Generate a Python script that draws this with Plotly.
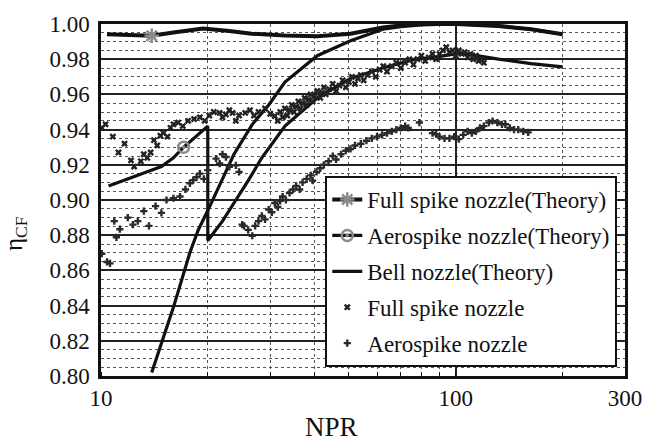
import plotly.graph_objects as go

# ---------------- data ----------------
fs_theory_x = [10.4, 11.5, 13.9, 16.0, 19.4, 23.0, 26.6, 33.0, 40.7, 50.5, 62.3, 70.0, 80.0, 100.0, 132.0, 163.0, 200.0]
fs_theory_y = [0.9942, 0.9938, 0.9933, 0.9952, 0.9975, 0.9960, 0.9945, 0.9935, 0.9930, 0.9945, 0.9980, 0.9992, 1.0, 1.0, 0.9989, 0.9970, 0.9942]
fs_theory_mark_x = [13.9]
fs_theory_mark_y = [0.9933]

aero_theory_x = [10.5, 12.0, 13.5, 14.8, 16.0, 17.1, 18.5, 20.0, 20.0, 22.0, 24.0, 26.0, 28.4, 33.0, 40.7, 50.5, 62.3, 77.0, 86.6, 100.0, 106.8, 132.0, 163.0, 200.0]
aero_theory_y = [0.908, 0.912, 0.916, 0.919, 0.924, 0.930, 0.936, 0.942, 0.877, 0.888, 0.900, 0.911, 0.924, 0.942, 0.958, 0.969, 0.975, 0.980, 0.981, 0.983, 0.983, 0.980, 0.9775, 0.9756]
aero_theory_mark_x = [17.1]
aero_theory_mark_y = [0.930]

bell_x = [13.9, 16.0, 17.8, 18.8, 20.0, 22.5, 23.7, 26.7, 29.7, 33.0, 40.7, 50.5, 62.3, 70.0, 80.0, 100.0, 132.0, 163.0, 200.0]
bell_y = [0.802, 0.839, 0.870, 0.883, 0.894, 0.916, 0.926, 0.943, 0.954, 0.967, 0.982, 0.9905, 0.997, 0.9985, 0.9995, 1.0, 0.9989, 0.997, 0.9942]

fs_exp_x = [10.05, 10.3, 10.8, 11.2, 11.65, 12.15, 12.4, 12.95, 13.2, 13.5, 13.8, 14.1, 14.4, 14.7, 15.0, 15.4,
            15.7, 16.0, 16.5, 17.0, 17.6, 18.3, 19.0, 19.6, 20.2, 20.8, 21.6, 22.0, 22.5, 23.0, 23.5, 24.0,
            24.5, 25.5, 26.3, 27.0, 27.8, 29.0, 30.0, 30.9,
            31.5, 32.0, 32.5, 33.0, 33.5, 34.0, 34.5, 35.0, 35.5, 36.0, 36.5, 37.0, 37.5, 38.0, 38.5, 39.0,
            39.5, 40.0, 40.7, 41.5, 42.0, 42.5, 43.0, 44.0, 45.0, 46.0, 47.0, 48.0, 49.0, 50.0, 51.0, 52.0,
            53.0, 54.0, 55.0, 56.5, 58.0, 59.5, 61.0, 62.5, 64.0, 66.0, 68.0, 70.0, 72.0, 74.0, 76.0, 78.0,
            80.0, 82.0, 84.0, 86.0, 88.0, 90.0, 92.0, 94.0, 96.0, 98.0, 100.0, 102.0, 104.0, 106.0, 108.0,
            110.0, 112.0, 114.0, 116.0, 118.0, 120.0]
fs_exp_y = [0.941, 0.943, 0.936, 0.927, 0.932, 0.9225, 0.919, 0.922, 0.926, 0.924, 0.927, 0.934, 0.931, 0.9365, 0.938, 0.936,
            0.941, 0.943, 0.944, 0.942, 0.945, 0.946, 0.947, 0.945, 0.948, 0.950, 0.9495, 0.947, 0.9486, 0.951, 0.9495, 0.945,
            0.948, 0.9495, 0.951, 0.948, 0.950, 0.952, 0.949, 0.9477,
            0.945, 0.950, 0.947, 0.952, 0.948, 0.951, 0.954, 0.950, 0.953, 0.956, 0.952, 0.955, 0.958, 0.954, 0.957, 0.960,
            0.956, 0.959, 0.962, 0.958, 0.961, 0.964, 0.960, 0.963, 0.966, 0.962, 0.965, 0.968, 0.964, 0.967, 0.970, 0.966,
            0.969, 0.971, 0.968, 0.971, 0.973, 0.970, 0.974, 0.976, 0.973, 0.976, 0.978, 0.975, 0.978, 0.980, 0.977, 0.980,
            0.982, 0.979, 0.981, 0.983, 0.980, 0.983, 0.985, 0.9868, 0.984, 0.985, 0.982, 0.985, 0.983, 0.984, 0.981,
            0.983, 0.980, 0.982, 0.979, 0.980, 0.978]

aero_exp_x = [10.05, 10.4, 10.6, 10.9, 11.05, 11.3, 11.9, 12.3, 12.7, 13.2, 13.65, 14.25, 14.8, 15.3, 16.0, 16.7,
              17.3, 17.8, 18.2, 18.6, 19.0, 19.5, 20.0, 21.1, 21.6, 22.0, 22.5, 23.0, 24.0, 24.5,
              25.0, 25.3, 26.0, 26.7, 27.2, 27.8, 28.4, 29.0, 29.7, 30.3, 30.9, 31.5, 32.0, 32.5, 33.2, 34.0,
              34.8, 35.5, 36.3, 37.0, 38.0, 39.0, 39.5, 40.5, 41.5, 42.5, 43.8, 45.0, 46.0, 47.5, 49.0, 50.5,
              52.0, 54.0, 56.0, 58.0, 60.0, 62.0, 64.0, 66.0, 68.0, 70.0, 72.0, 73.5, 79.0,
              86.0, 88.0, 90.0, 93.0, 96.0, 99.0, 102.0, 105.0, 108.0, 111.0, 114.0, 117.0, 120.0, 124.0, 127.0,
              131.0, 135.0, 138.0, 142.0, 146.0, 150.0, 155.0, 160.0]
aero_exp_y = [0.8695, 0.8648, 0.864, 0.888, 0.8788, 0.8834, 0.890, 0.886, 0.888, 0.8937, 0.8853, 0.8965, 0.8927, 0.900, 0.901, 0.902,
              0.906, 0.9095, 0.9113, 0.913, 0.915, 0.912, 0.917, 0.9235, 0.9207, 0.926, 0.9244, 0.9188, 0.9197, 0.916,
              0.886, 0.8853, 0.883, 0.8797, 0.8853, 0.888, 0.891, 0.889, 0.8946, 0.893, 0.8983, 0.896, 0.8995, 0.902, 0.900, 0.904,
              0.906, 0.908, 0.906, 0.910, 0.912, 0.914, 0.911, 0.916, 0.918, 0.920, 0.922, 0.925, 0.923, 0.926, 0.928, 0.929,
              0.931, 0.932, 0.9337, 0.935, 0.936, 0.937, 0.938, 0.939, 0.940, 0.941, 0.942, 0.941, 0.944,
              0.938, 0.9374, 0.936, 0.935, 0.935, 0.936, 0.9346, 0.937, 0.939, 0.938, 0.939, 0.941, 0.942, 0.944, 0.9449,
              0.944, 0.943, 0.943, 0.941, 0.940, 0.940, 0.939, 0.9384]

x_tick_vals = [10, 100, 300]
x_tick_text = ["10", "100", "300"]
y_tick_vals = [0.80, 0.82, 0.84, 0.86, 0.88, 0.90, 0.92, 0.94, 0.96, 0.98, 1.00]
y_tick_text = ["%.2f" % v for v in y_tick_vals]

legend_names = ["Full spike nozzle(Theory)", "Aerospike nozzle(Theory)", "Bell nozzle(Theory)",
                "Full spike nozzle", "Aerospike nozzle"]

# ---------------- figure ----------------
SERIF = "Liberation Serif"
INK = "#111111"
GRAYM = "#8a8a8a"

fs_mark = dict(symbol="asterisk-open", size=12, color=GRAYM, line=dict(width=2.5, color=GRAYM))
ae_mark = dict(symbol="circle-open-dot", size=11, color=GRAYM, line=dict(width=2.5, color=GRAYM))

fig = go.Figure()

# legend-only entries for theory curves (added first so they head the legend)
fig.add_trace(go.Scatter(x=[None], y=[None], mode="lines+markers", name=legend_names[0], legendgroup="g1",
                         legendrank=1, line=dict(color=INK, width=4), marker=fs_mark))
fig.add_trace(go.Scatter(x=[None], y=[None], mode="lines+markers", name=legend_names[1], legendgroup="g2",
                         legendrank=2, line=dict(color=INK, width=3.2), marker=ae_mark))
fig.add_trace(go.Scatter(x=[None], y=[None], mode="lines", name=legend_names[2], legendgroup="g3",
                         legendrank=3, line=dict(color=INK, width=3.2)))

# theory lines
fig.add_trace(go.Scatter(x=fs_theory_x, y=fs_theory_y, mode="lines", legendgroup="g1", showlegend=False,
                         line=dict(color=INK, width=4), hoverinfo="skip"))
fig.add_trace(go.Scatter(x=aero_theory_x, y=aero_theory_y, mode="lines", legendgroup="g2", showlegend=False,
                         line=dict(color=INK, width=3.2), hoverinfo="skip"))
fig.add_trace(go.Scatter(x=bell_x, y=bell_y, mode="lines", legendgroup="g3", showlegend=False,
                         line=dict(color=INK, width=3.2), hoverinfo="skip"))

# experiments
fig.add_trace(go.Scatter(x=fs_exp_x, y=fs_exp_y, mode="markers", name=legend_names[3], legendgroup="g4",
                         legendrank=4, marker=dict(symbol="x", size=6, color="#222222", line=dict(width=0))))
fig.add_trace(go.Scatter(x=aero_exp_x, y=aero_exp_y, mode="markers", name=legend_names[4], legendgroup="g5",
                         legendrank=5, marker=dict(symbol="cross", size=6, color="#2a2a2a", line=dict(width=0))))

# theory markers
fig.add_trace(go.Scatter(x=fs_theory_mark_x, y=fs_theory_mark_y, mode="markers", legendgroup="g1", showlegend=False,
                         marker=fs_mark))
fig.add_trace(go.Scatter(x=aero_theory_mark_x, y=aero_theory_mark_y, mode="markers", legendgroup="g2", showlegend=False,
                         marker=ae_mark))

fig.update_layout(
    width=654, height=443,
    margin=dict(l=101, r=20, t=18, b=67),
    paper_bgcolor="white", plot_bgcolor="white",
    font=dict(family=SERIF, size=23, color=INK),
    showlegend=True,
    legend=dict(x=0.428, y=0.568, xanchor="left", yanchor="top",
                bgcolor="white", bordercolor=INK, borderwidth=2,
                font=dict(family=SERIF, size=23, color=INK),
                traceorder="grouped", tracegroupgap=3, itemwidth=30),
    xaxis=dict(type="log", range=[1, 2.4771], tickmode="array", tickvals=x_tick_vals, ticktext=x_tick_text,
               showgrid=True, gridcolor="#222222", gridwidth=1.5,
               showline=True, linecolor=INK, linewidth=2.5, mirror=True,
               ticks="", tickfont=dict(family=SERIF, size=23, color=INK),
               minor=dict(dtick="D1", showgrid=True, gridcolor="#555555", gridwidth=1.2, griddash="dot",
                          ticks="inside", ticklen=4, tickcolor=INK),
               zeroline=False),
    yaxis=dict(range=[0.80, 1.00], tickmode="array", tickvals=y_tick_vals, ticktext=y_tick_text,
               showgrid=True, gridcolor="#222222", gridwidth=1.5,
               showline=True, linecolor=INK, linewidth=2.5, mirror=True,
               ticks="outside", ticklen=4, tickcolor="white",
               tickfont=dict(family=SERIF, size=23, color=INK),
               minor=dict(dtick=0.005, showgrid=True, gridcolor="#555555", gridwidth=1.1, griddash="dot"),
               zeroline=False),
    annotations=[
        dict(text="NPR", xref="paper", yref="paper", x=0.439, y=-0.145, showarrow=False,
             font=dict(family=SERIF, size=27, color=INK), xanchor="center", yanchor="middle"),
        dict(text="η<sub>CF</sub>", xref="paper", yref="paper", x=-0.163, y=0.405, showarrow=False,
             textangle=-90, font=dict(family=SERIF, size=25, color=INK), xanchor="center", yanchor="middle"),
    ],
)

fig.write_html("out.html")
